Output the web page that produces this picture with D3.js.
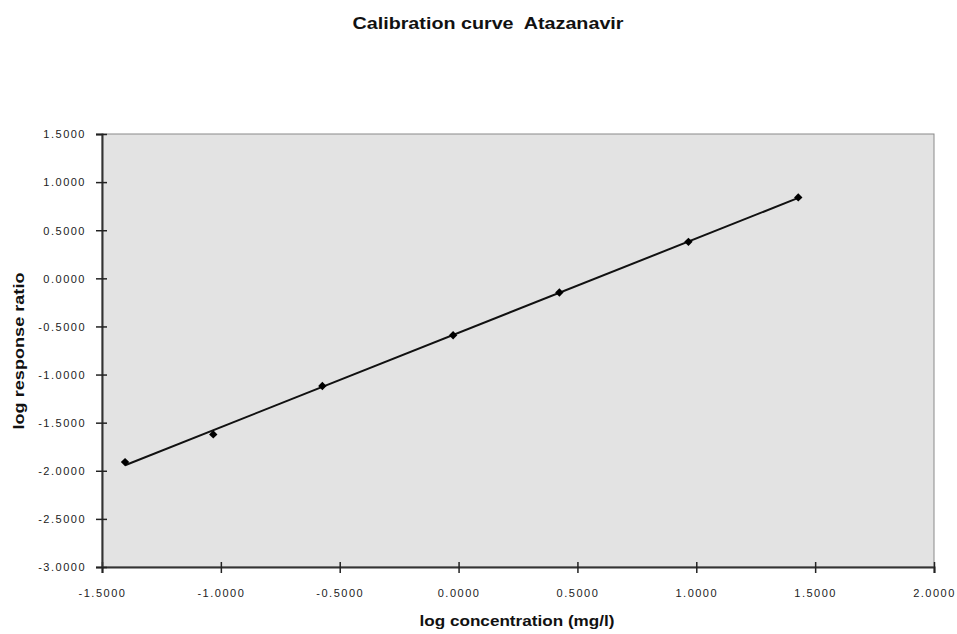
<!DOCTYPE html>
<html>
<head>
<meta charset="utf-8">
<script src="https://cdn.jsdelivr.net/npm/d3@7"></script>
<style>
  body { margin: 0; background: #fff; }
  svg { font-family: "Liberation Sans", Arial, sans-serif; }
  .tick text { font-size: 11px; letter-spacing: 1.5px; fill: #222; }
</style>
</head>
<body>
<div id="chart"></div>
<script>
const title = "Calibration curve  Atazanavir";
const xLabel = "log concentration (mg/l)";
const yLabel = "log response ratio";

// calibration points
const logConc = [-1.403, -1.032, -0.573, -0.023, 0.424, 0.967, 1.429];
const logResp = [-1.910, -1.622, -1.119, -0.592, -0.147, 0.379, 0.841];

const xTicks = [-1.5, -1.0, -0.5, 0.0, 0.5, 1.0, 1.5, 2.0];
const yTicks = [1.5, 1.0, 0.5, 0.0, -0.5, -1.0, -1.5, -2.0, -2.5, -3.0];

const width = 957, height = 634;
const margin = { top: 134, right: 23, bottom: 67, left: 102 };
const w = width - margin.left - margin.right;
const h = height - margin.top - margin.bottom;

const svg = d3.select("#chart").append("svg")
    .attr("width", width)
    .attr("height", height);

const g = svg.append("g")
    .attr("transform", "translate(" + margin.left + "," + margin.top + ")");

const x = d3.scaleLinear().domain([-1.5, 2.0]).range([0, w]);
const y = d3.scaleLinear().domain([-3.0, 1.5]).range([h, 0]);

// plot area
g.append("rect")
    .attr("width", w)
    .attr("height", h)
    .attr("fill", "#e3e3e3")
    .attr("stroke", "#8a8a8a")
    .attr("stroke-width", 1);

// least squares trend line
const n = logConc.length;
const mx = d3.mean(logConc), my = d3.mean(logResp);
let sxy = 0, sxx = 0;
for (let i = 0; i < n; i++) {
  sxy += (logConc[i] - mx) * (logResp[i] - my);
  sxx += (logConc[i] - mx) * (logConc[i] - mx);
}
const slope = sxy / sxx, icpt = my - slope * mx;
const x0 = d3.min(logConc), x1 = d3.max(logConc);

g.append("line")
    .attr("x1", x(x0)).attr("y1", y(icpt + slope * x0))
    .attr("x2", x(x1)).attr("y2", y(icpt + slope * x1))
    .attr("stroke", "#111")
    .attr("stroke-width", 2);

// diamond markers
const pts = logConc.map((v, i) => ({ x: v, y: logResp[i] }));
g.selectAll(".pt")
  .data(pts)
  .enter().append("path")
    .attr("class", "pt")
    .attr("d", d3.symbol().type(d3.symbolDiamond2).size(45))
    .attr("transform", d => "translate(" + x(d.x) + "," + y(d.y) + ")")
    .attr("fill", "#000");

// axes
const fmt = v => d3.format(".4f")(v).replace("\u2212", "-");
const xAxis = d3.axisBottom(x).tickValues(xTicks).tickFormat(fmt).tickSize(6).tickPadding(16);
const yAxis = d3.axisLeft(y).tickValues(yTicks).tickFormat(fmt).tickSize(6).tickPadding(10);

const xg = g.append("g")
    .attr("transform", "translate(0," + h + ")")
    .call(xAxis);
const yg = g.append("g").call(yAxis);

[xg, yg].forEach(a => {
  a.select(".domain").attr("stroke", "#333").attr("stroke-width", 2);
  a.selectAll(".tick line").attr("stroke", "#222").attr("stroke-width", 1.5);
  a.selectAll(".tick text").attr("font-family", null).attr("font-size", null);
});
// ticks cross the axis
xg.selectAll(".tick line").attr("y1", -5).attr("y2", 6);
yg.selectAll(".tick line").attr("x1", 5).attr("x2", -6);
yg.selectAll(".tick text").attr("dy", "0.35em");

// titles
svg.append("text")
    .attr("x", 488).attr("y", 29)
    .attr("text-anchor", "middle")
    .attr("xml:space", "preserve")
    .style("white-space", "pre")
    .attr("font-size", 17)
    .attr("font-weight", "bold")
    .attr("textLength", 271)
    .attr("lengthAdjust", "spacingAndGlyphs")
    .attr("fill", "#111")
    .text(title);

svg.append("text")
    .attr("x", 517).attr("y", 626)
    .attr("text-anchor", "middle")
    .attr("font-size", 14)
    .attr("font-weight", "bold")
    .attr("textLength", 195)
    .attr("lengthAdjust", "spacingAndGlyphs")
    .attr("fill", "#111")
    .text(xLabel);

svg.append("text")
    .attr("transform", "translate(24," + 351 + ") rotate(-90)")
    .attr("text-anchor", "middle")
    .attr("font-size", 14)
    .attr("font-weight", "bold")
    .attr("textLength", 157)
    .attr("lengthAdjust", "spacingAndGlyphs")
    .attr("fill", "#111")
    .text(yLabel);
</script>
</body>
</html>
